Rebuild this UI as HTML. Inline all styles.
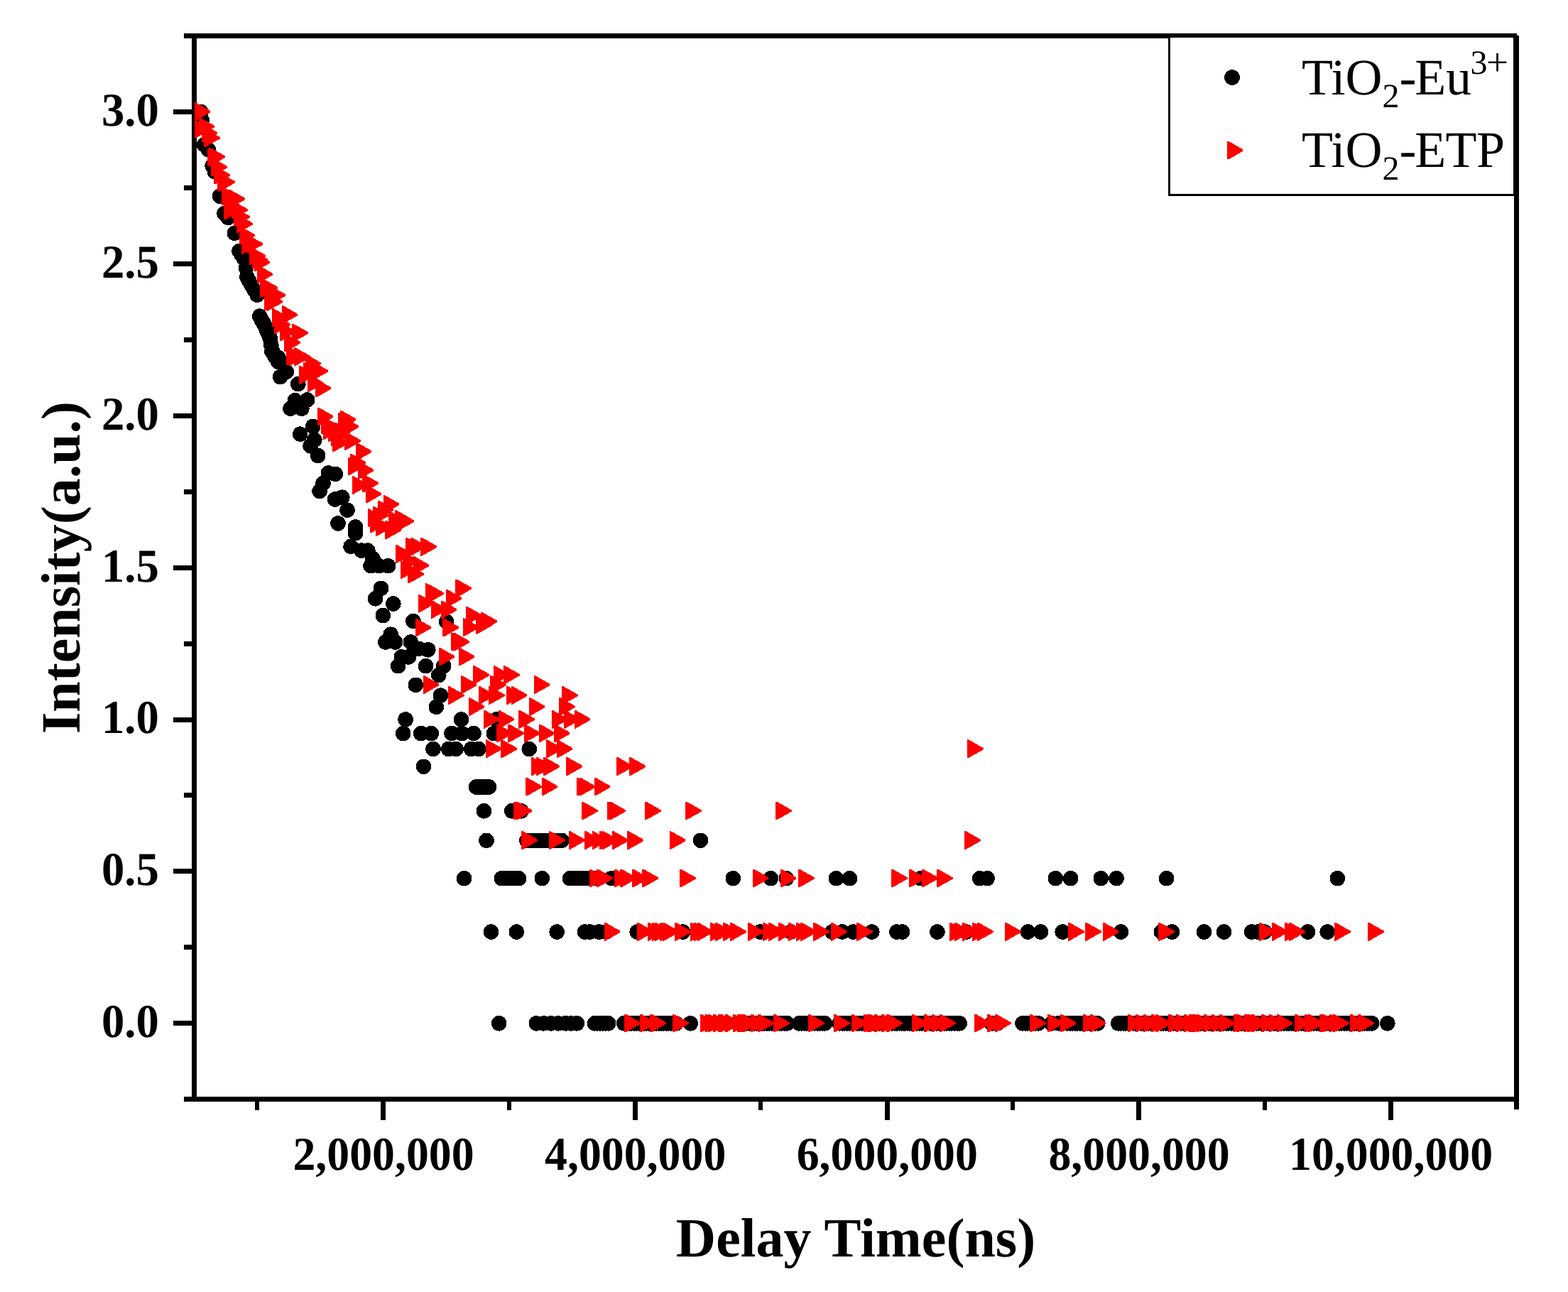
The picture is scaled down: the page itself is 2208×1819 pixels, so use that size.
<!DOCTYPE html>
<html lang="en"><head><meta charset="utf-8"><title>Intensity vs Delay Time</title>
<style>html,body{margin:0;padding:0;background:#fff}body{width:2208px;height:1819px;overflow:hidden}svg{display:block}</style>
</head><body>
<svg width="2208" height="1819" viewBox="0 0 2208 1819" shape-rendering="crispEdges" text-rendering="geometricPrecision">
<rect x="0" y="0" width="2208" height="1819" fill="#fff"/>
<g fill="#000">
<rect x="259" y="47" width="1877" height="7"/>
<rect x="259" y="1544" width="1880" height="7"/>
<rect x="270" y="47" width="7" height="1504"/>
<rect x="2132" y="50" width="7" height="1512"/>
<rect x="244" y="154" width="27" height="7"/>
<rect x="244" y="368" width="27" height="7"/>
<rect x="244" y="582" width="27" height="7"/>
<rect x="244" y="796" width="27" height="7"/>
<rect x="244" y="1010" width="27" height="7"/>
<rect x="244" y="1223" width="27" height="7"/>
<rect x="244" y="1437" width="27" height="7"/>
<rect x="259" y="261" width="12" height="7"/>
<rect x="259" y="475" width="12" height="7"/>
<rect x="259" y="689" width="12" height="7"/>
<rect x="259" y="903" width="12" height="7"/>
<rect x="259" y="1116" width="12" height="7"/>
<rect x="259" y="1330" width="12" height="7"/>
<rect x="536" y="1548" width="7" height="29"/>
<rect x="891" y="1548" width="7" height="29"/>
<rect x="1246" y="1548" width="7" height="29"/>
<rect x="1600" y="1548" width="7" height="29"/>
<rect x="1955" y="1548" width="7" height="29"/>
<rect x="359.2" y="1548" width="6.2" height="14.5"/>
<rect x="714.2" y="1548" width="6.2" height="14.5"/>
<rect x="1068.2" y="1548" width="6.2" height="14.5"/>
<rect x="1423.2" y="1548" width="6.2" height="14.5"/>
<rect x="1778.2" y="1548" width="6.2" height="14.5"/>
</g>
<defs><clipPath id="cp"><rect x="274" y="54" width="1858" height="1490"/></clipPath></defs>
<g clip-path="url(#cp)" shape-rendering="crispEdges">
<g fill="#000">
<circle cx="283.0" cy="157.6" r="10.8"/>
<circle cx="284.2" cy="169.2" r="10.8"/>
<circle cx="287.6" cy="203.7" r="10.8"/>
<circle cx="293.4" cy="210.6" r="10.8"/>
<circle cx="299.2" cy="233.7" r="10.8"/>
<circle cx="302.6" cy="241.8" r="10.8"/>
<circle cx="309.5" cy="276.3" r="10.8"/>
<circle cx="315.9" cy="300.5" r="10.8"/>
<circle cx="321.1" cy="306.3" r="10.8"/>
<circle cx="330.3" cy="328.2" r="10.8"/>
<circle cx="336.9" cy="353.6" r="10.8"/>
<circle cx="343.8" cy="364.5" r="10.8"/>
<circle cx="347.8" cy="389.9" r="10.8"/>
<circle cx="354.1" cy="401.4" r="10.8"/>
<circle cx="362.2" cy="415.2" r="10.8"/>
<circle cx="365.7" cy="445.2" r="10.8"/>
<circle cx="371.4" cy="455.5" r="10.8"/>
<circle cx="377.2" cy="467.1" r="10.8"/>
<circle cx="380.6" cy="477.4" r="10.8"/>
<circle cx="382.9" cy="494.7" r="10.8"/>
<circle cx="375.8" cy="465.8" r="10.8"/>
<circle cx="380.2" cy="475.8" r="10.8"/>
<circle cx="383.8" cy="494.6" r="10.8"/>
<circle cx="391.7" cy="503.2" r="10.8"/>
<circle cx="397.4" cy="510.4" r="10.8"/>
<circle cx="403.2" cy="523.4" r="10.8"/>
<circle cx="394.6" cy="530.6" r="10.8"/>
<circle cx="419.8" cy="540.7" r="10.8"/>
<circle cx="415.5" cy="563.7" r="10.8"/>
<circle cx="432.7" cy="563.0" r="10.8"/>
<circle cx="409.0" cy="575.2" r="10.8"/>
<circle cx="424.8" cy="575.2" r="10.8"/>
<circle cx="440.7" cy="600.4" r="10.8"/>
<circle cx="422.7" cy="611.2" r="10.8"/>
<circle cx="442.8" cy="619.2" r="10.8"/>
<circle cx="437.1" cy="627.8" r="10.8"/>
<circle cx="447.6" cy="641.5" r="10.8"/>
<circle cx="462.3" cy="666.0" r="10.8"/>
<circle cx="472.3" cy="667.4" r="10.8"/>
<circle cx="455.1" cy="680.4" r="10.8"/>
<circle cx="450.1" cy="691.5" r="10.8"/>
<circle cx="471.7" cy="703.0" r="10.8"/>
<circle cx="481.8" cy="700.2" r="10.8"/>
<circle cx="489.0" cy="718.2" r="10.8"/>
<circle cx="476.0" cy="736.9" r="10.8"/>
<circle cx="500.5" cy="741.9" r="10.8"/>
<circle cx="500.5" cy="750.6" r="10.8"/>
<circle cx="494.0" cy="769.3" r="10.8"/>
<circle cx="509.1" cy="775.1" r="10.8"/>
<circle cx="517.8" cy="775.1" r="10.8"/>
<circle cx="525.0" cy="786.6" r="10.8"/>
<circle cx="522.1" cy="796.7" r="10.8"/>
<circle cx="533.6" cy="796.7" r="10.8"/>
<circle cx="546.6" cy="796.7" r="10.8"/>
<circle cx="536.5" cy="828.4" r="10.8"/>
<circle cx="528.6" cy="842.8" r="10.8"/>
<circle cx="553.8" cy="850.0" r="10.8"/>
<circle cx="539.4" cy="866.5" r="10.8"/>
<circle cx="581.9" cy="874.4" r="10.8"/>
<circle cx="628.7" cy="875.2" r="10.8"/>
<circle cx="550.2" cy="893.2" r="10.8"/>
<circle cx="543.0" cy="904.0" r="10.8"/>
<circle cx="556.7" cy="904.0" r="10.8"/>
<circle cx="578.3" cy="904.0" r="10.8"/>
<circle cx="589.8" cy="913.3" r="10.8"/>
<circle cx="602.8" cy="914.8" r="10.8"/>
<circle cx="565.3" cy="924.9" r="10.8"/>
<circle cx="575.4" cy="924.9" r="10.8"/>
<circle cx="340.3" cy="359.0" r="10.8"/>
<circle cx="346.5" cy="377.1" r="10.8"/>
<circle cx="350.9" cy="395.7" r="10.8"/>
<circle cx="358.0" cy="408.3" r="10.8"/>
<circle cx="368.4" cy="450.4" r="10.8"/>
<circle cx="374.4" cy="461.3" r="10.8"/>
<circle cx="378.8" cy="472.3" r="10.8"/>
<circle cx="381.8" cy="486.0" r="10.8"/>
<circle cx="387.0" cy="501.8" r="10.8"/>
<circle cx="391.7" cy="509.5" r="10.8"/>
<circle cx="560.7" cy="937.7" r="10.8"/>
<circle cx="599.6" cy="937.7" r="10.8"/>
<circle cx="624.7" cy="937.7" r="10.8"/>
<circle cx="617.8" cy="950.5" r="10.8"/>
<circle cx="585.3" cy="964.3" r="10.8"/>
<circle cx="620.4" cy="979.2" r="10.8"/>
<circle cx="614.3" cy="995.3" r="10.8"/>
<circle cx="571.1" cy="1013.0" r="10.8"/>
<circle cx="649.4" cy="1013.0" r="10.8"/>
<circle cx="699.0" cy="1013.0" r="10.8"/>
<circle cx="567.7" cy="1032.6" r="10.8"/>
<circle cx="592.7" cy="1032.6" r="10.8"/>
<circle cx="607.4" cy="1032.6" r="10.8"/>
<circle cx="635.9" cy="1032.6" r="10.8"/>
<circle cx="650.6" cy="1032.6" r="10.8"/>
<circle cx="667.0" cy="1032.6" r="10.8"/>
<circle cx="695.5" cy="1032.6" r="10.8"/>
<circle cx="610.0" cy="1054.5" r="10.8"/>
<circle cx="631.6" cy="1054.5" r="10.8"/>
<circle cx="642.0" cy="1054.5" r="10.8"/>
<circle cx="663.6" cy="1054.5" r="10.8"/>
<circle cx="673.9" cy="1054.5" r="10.8"/>
<circle cx="745.3" cy="1054.5" r="10.8"/>
<circle cx="596.5" cy="1079.3" r="10.8"/>
<circle cx="670.5" cy="1107.9" r="10.8"/>
<circle cx="688.6" cy="1107.9" r="10.8"/>
<circle cx="681.4" cy="1141.8" r="10.8"/>
<circle cx="720.7" cy="1141.8" r="10.8"/>
<circle cx="734.0" cy="1141.8" r="10.8"/>
<circle cx="685.0" cy="1183.3" r="10.8"/>
<circle cx="741.9" cy="1183.3" r="10.8"/>
<circle cx="753.9" cy="1183.3" r="10.8"/>
<circle cx="764.3" cy="1183.3" r="10.8"/>
<circle cx="776.7" cy="1183.3" r="10.8"/>
<circle cx="790.9" cy="1183.3" r="10.8"/>
<circle cx="986.5" cy="1183.3" r="10.8"/>
<circle cx="653.6" cy="1236.7" r="10.8"/>
<circle cx="706.4" cy="1236.7" r="10.8"/>
<circle cx="714.4" cy="1236.7" r="10.8"/>
<circle cx="722.5" cy="1236.7" r="10.8"/>
<circle cx="730.5" cy="1236.7" r="10.8"/>
<circle cx="763.3" cy="1236.7" r="10.8"/>
<circle cx="802.6" cy="1236.7" r="10.8"/>
<circle cx="813.6" cy="1236.7" r="10.8"/>
<circle cx="825.0" cy="1236.7" r="10.8"/>
<circle cx="836.4" cy="1236.7" r="10.8"/>
<circle cx="861.1" cy="1236.7" r="10.8"/>
<circle cx="1032.3" cy="1236.7" r="10.8"/>
<circle cx="1085.4" cy="1236.7" r="10.8"/>
<circle cx="1107.3" cy="1236.7" r="10.8"/>
<circle cx="1177.5" cy="1236.7" r="10.8"/>
<circle cx="1196.5" cy="1236.7" r="10.8"/>
<circle cx="1296.2" cy="1236.7" r="10.8"/>
<circle cx="1379.7" cy="1236.7" r="10.8"/>
<circle cx="1390.1" cy="1236.7" r="10.8"/>
<circle cx="1486.3" cy="1236.7" r="10.8"/>
<circle cx="1507.6" cy="1236.7" r="10.8"/>
<circle cx="1550.3" cy="1236.7" r="10.8"/>
<circle cx="1572.1" cy="1236.7" r="10.8"/>
<circle cx="1642.6" cy="1236.7" r="10.8"/>
<circle cx="1883.4" cy="1236.7" r="10.8"/>
<circle cx="691.6" cy="1312.0" r="10.8"/>
<circle cx="727.3" cy="1312.0" r="10.8"/>
<circle cx="784.2" cy="1312.0" r="10.8"/>
<circle cx="823.5" cy="1312.0" r="10.8"/>
<circle cx="830.7" cy="1312.0" r="10.8"/>
<circle cx="843.1" cy="1312.0" r="10.8"/>
<circle cx="853.5" cy="1312.0" r="10.8"/>
<circle cx="897.2" cy="1312.0" r="10.8"/>
<circle cx="961.7" cy="1312.0" r="10.8"/>
<circle cx="1070.2" cy="1312.0" r="10.8"/>
<circle cx="1113.9" cy="1312.0" r="10.8"/>
<circle cx="1171.8" cy="1312.0" r="10.8"/>
<circle cx="1186.0" cy="1312.0" r="10.8"/>
<circle cx="1201.2" cy="1312.0" r="10.8"/>
<circle cx="1227.8" cy="1312.0" r="10.8"/>
<circle cx="1262.9" cy="1312.0" r="10.8"/>
<circle cx="1270.5" cy="1312.0" r="10.8"/>
<circle cx="1319.9" cy="1312.0" r="10.8"/>
<circle cx="1360.7" cy="1312.0" r="10.8"/>
<circle cx="1447.4" cy="1312.0" r="10.8"/>
<circle cx="1465.4" cy="1312.0" r="10.8"/>
<circle cx="1496.2" cy="1312.0" r="10.8"/>
<circle cx="1578.4" cy="1312.0" r="10.8"/>
<circle cx="1635.3" cy="1312.0" r="10.8"/>
<circle cx="1650.5" cy="1312.0" r="10.8"/>
<circle cx="1695.5" cy="1312.0" r="10.8"/>
<circle cx="1723.6" cy="1312.0" r="10.8"/>
<circle cx="1762.5" cy="1312.0" r="10.8"/>
<circle cx="1771.1" cy="1312.0" r="10.8"/>
<circle cx="1780.9" cy="1312.0" r="10.8"/>
<circle cx="1841.6" cy="1312.0" r="10.8"/>
<circle cx="1869.2" cy="1312.0" r="10.8"/>
<circle cx="702.7" cy="1440.8" r="10.8"/>
<circle cx="755.3" cy="1440.8" r="10.8"/>
<circle cx="765.4" cy="1440.8" r="10.8"/>
<circle cx="775.8" cy="1440.8" r="10.8"/>
<circle cx="786.2" cy="1440.8" r="10.8"/>
<circle cx="796.7" cy="1440.8" r="10.8"/>
<circle cx="804.3" cy="1440.8" r="10.8"/>
<circle cx="812.3" cy="1440.8" r="10.8"/>
<circle cx="837.5" cy="1440.8" r="10.8"/>
<circle cx="841.3" cy="1440.8" r="10.8"/>
<circle cx="845.1" cy="1440.8" r="10.8"/>
<circle cx="849.0" cy="1440.8" r="10.8"/>
<circle cx="852.8" cy="1440.8" r="10.8"/>
<circle cx="856.6" cy="1440.8" r="10.8"/>
<circle cx="878.7" cy="1440.8" r="10.8"/>
<circle cx="882.2" cy="1440.8" r="10.8"/>
<circle cx="885.7" cy="1440.8" r="10.8"/>
<circle cx="889.2" cy="1440.8" r="10.8"/>
<circle cx="892.7" cy="1440.8" r="10.8"/>
<circle cx="896.2" cy="1440.8" r="10.8"/>
<circle cx="899.6" cy="1440.8" r="10.8"/>
<circle cx="903.1" cy="1440.8" r="10.8"/>
<circle cx="906.6" cy="1440.8" r="10.8"/>
<circle cx="910.1" cy="1440.8" r="10.8"/>
<circle cx="913.6" cy="1440.8" r="10.8"/>
<circle cx="917.1" cy="1440.8" r="10.8"/>
<circle cx="920.6" cy="1440.8" r="10.8"/>
<circle cx="924.1" cy="1440.8" r="10.8"/>
<circle cx="927.6" cy="1440.8" r="10.8"/>
<circle cx="931.1" cy="1440.8" r="10.8"/>
<circle cx="934.5" cy="1440.8" r="10.8"/>
<circle cx="938.0" cy="1440.8" r="10.8"/>
<circle cx="941.5" cy="1440.8" r="10.8"/>
<circle cx="945.0" cy="1440.8" r="10.8"/>
<circle cx="948.5" cy="1440.8" r="10.8"/>
<circle cx="952.0" cy="1440.8" r="10.8"/>
<circle cx="972.2" cy="1440.8" r="10.8"/>
<circle cx="1051.1" cy="1440.8" r="10.8"/>
<circle cx="1054.7" cy="1440.8" r="10.8"/>
<circle cx="1058.3" cy="1440.8" r="10.8"/>
<circle cx="1061.9" cy="1440.8" r="10.8"/>
<circle cx="1065.4" cy="1440.8" r="10.8"/>
<circle cx="1069.0" cy="1440.8" r="10.8"/>
<circle cx="1072.6" cy="1440.8" r="10.8"/>
<circle cx="1076.2" cy="1440.8" r="10.8"/>
<circle cx="1079.8" cy="1440.8" r="10.8"/>
<circle cx="1083.4" cy="1440.8" r="10.8"/>
<circle cx="1087.0" cy="1440.8" r="10.8"/>
<circle cx="1090.6" cy="1440.8" r="10.8"/>
<circle cx="1094.2" cy="1440.8" r="10.8"/>
<circle cx="1097.7" cy="1440.8" r="10.8"/>
<circle cx="1101.3" cy="1440.8" r="10.8"/>
<circle cx="1104.9" cy="1440.8" r="10.8"/>
<circle cx="1108.5" cy="1440.8" r="10.8"/>
<circle cx="1125.5" cy="1440.8" r="10.8"/>
<circle cx="1129.1" cy="1440.8" r="10.8"/>
<circle cx="1132.7" cy="1440.8" r="10.8"/>
<circle cx="1136.3" cy="1440.8" r="10.8"/>
<circle cx="1139.9" cy="1440.8" r="10.8"/>
<circle cx="1143.5" cy="1440.8" r="10.8"/>
<circle cx="1147.1" cy="1440.8" r="10.8"/>
<circle cx="1150.7" cy="1440.8" r="10.8"/>
<circle cx="1154.3" cy="1440.8" r="10.8"/>
<circle cx="1157.9" cy="1440.8" r="10.8"/>
<circle cx="1161.5" cy="1440.8" r="10.8"/>
<circle cx="1182.1" cy="1440.8" r="10.8"/>
<circle cx="1185.6" cy="1440.8" r="10.8"/>
<circle cx="1189.1" cy="1440.8" r="10.8"/>
<circle cx="1192.7" cy="1440.8" r="10.8"/>
<circle cx="1196.2" cy="1440.8" r="10.8"/>
<circle cx="1199.7" cy="1440.8" r="10.8"/>
<circle cx="1203.2" cy="1440.8" r="10.8"/>
<circle cx="1206.7" cy="1440.8" r="10.8"/>
<circle cx="1210.3" cy="1440.8" r="10.8"/>
<circle cx="1213.8" cy="1440.8" r="10.8"/>
<circle cx="1217.3" cy="1440.8" r="10.8"/>
<circle cx="1220.8" cy="1440.8" r="10.8"/>
<circle cx="1224.3" cy="1440.8" r="10.8"/>
<circle cx="1227.9" cy="1440.8" r="10.8"/>
<circle cx="1231.4" cy="1440.8" r="10.8"/>
<circle cx="1234.9" cy="1440.8" r="10.8"/>
<circle cx="1238.4" cy="1440.8" r="10.8"/>
<circle cx="1242.0" cy="1440.8" r="10.8"/>
<circle cx="1245.5" cy="1440.8" r="10.8"/>
<circle cx="1249.0" cy="1440.8" r="10.8"/>
<circle cx="1252.5" cy="1440.8" r="10.8"/>
<circle cx="1256.0" cy="1440.8" r="10.8"/>
<circle cx="1259.6" cy="1440.8" r="10.8"/>
<circle cx="1263.1" cy="1440.8" r="10.8"/>
<circle cx="1266.6" cy="1440.8" r="10.8"/>
<circle cx="1270.1" cy="1440.8" r="10.8"/>
<circle cx="1273.6" cy="1440.8" r="10.8"/>
<circle cx="1277.2" cy="1440.8" r="10.8"/>
<circle cx="1280.7" cy="1440.8" r="10.8"/>
<circle cx="1284.2" cy="1440.8" r="10.8"/>
<circle cx="1287.7" cy="1440.8" r="10.8"/>
<circle cx="1291.2" cy="1440.8" r="10.8"/>
<circle cx="1294.8" cy="1440.8" r="10.8"/>
<circle cx="1298.3" cy="1440.8" r="10.8"/>
<circle cx="1301.8" cy="1440.8" r="10.8"/>
<circle cx="1305.3" cy="1440.8" r="10.8"/>
<circle cx="1308.8" cy="1440.8" r="10.8"/>
<circle cx="1312.4" cy="1440.8" r="10.8"/>
<circle cx="1315.9" cy="1440.8" r="10.8"/>
<circle cx="1319.4" cy="1440.8" r="10.8"/>
<circle cx="1322.9" cy="1440.8" r="10.8"/>
<circle cx="1326.5" cy="1440.8" r="10.8"/>
<circle cx="1330.0" cy="1440.8" r="10.8"/>
<circle cx="1333.5" cy="1440.8" r="10.8"/>
<circle cx="1337.0" cy="1440.8" r="10.8"/>
<circle cx="1340.5" cy="1440.8" r="10.8"/>
<circle cx="1344.1" cy="1440.8" r="10.8"/>
<circle cx="1347.6" cy="1440.8" r="10.8"/>
<circle cx="1351.1" cy="1440.8" r="10.8"/>
<circle cx="1396.6" cy="1440.8" r="10.8"/>
<circle cx="1404.5" cy="1440.8" r="10.8"/>
<circle cx="1480.6" cy="1440.8" r="10.8"/>
<circle cx="1490.6" cy="1440.8" r="10.8"/>
<circle cx="1440.0" cy="1440.8" r="10.8"/>
<circle cx="1443.7" cy="1440.8" r="10.8"/>
<circle cx="1447.4" cy="1440.8" r="10.8"/>
<circle cx="1451.0" cy="1440.8" r="10.8"/>
<circle cx="1454.7" cy="1440.8" r="10.8"/>
<circle cx="1458.4" cy="1440.8" r="10.8"/>
<circle cx="1462.1" cy="1440.8" r="10.8"/>
<circle cx="1503.4" cy="1440.8" r="10.8"/>
<circle cx="1506.9" cy="1440.8" r="10.8"/>
<circle cx="1510.4" cy="1440.8" r="10.8"/>
<circle cx="1514.0" cy="1440.8" r="10.8"/>
<circle cx="1517.5" cy="1440.8" r="10.8"/>
<circle cx="1521.0" cy="1440.8" r="10.8"/>
<circle cx="1524.5" cy="1440.8" r="10.8"/>
<circle cx="1528.0" cy="1440.8" r="10.8"/>
<circle cx="1531.5" cy="1440.8" r="10.8"/>
<circle cx="1535.0" cy="1440.8" r="10.8"/>
<circle cx="1538.6" cy="1440.8" r="10.8"/>
<circle cx="1542.1" cy="1440.8" r="10.8"/>
<circle cx="1545.6" cy="1440.8" r="10.8"/>
<circle cx="1574.8" cy="1440.8" r="10.8"/>
<circle cx="1578.3" cy="1440.8" r="10.8"/>
<circle cx="1581.9" cy="1440.8" r="10.8"/>
<circle cx="1585.4" cy="1440.8" r="10.8"/>
<circle cx="1588.9" cy="1440.8" r="10.8"/>
<circle cx="1592.5" cy="1440.8" r="10.8"/>
<circle cx="1596.0" cy="1440.8" r="10.8"/>
<circle cx="1599.5" cy="1440.8" r="10.8"/>
<circle cx="1603.1" cy="1440.8" r="10.8"/>
<circle cx="1606.6" cy="1440.8" r="10.8"/>
<circle cx="1610.1" cy="1440.8" r="10.8"/>
<circle cx="1613.7" cy="1440.8" r="10.8"/>
<circle cx="1617.2" cy="1440.8" r="10.8"/>
<circle cx="1620.7" cy="1440.8" r="10.8"/>
<circle cx="1624.3" cy="1440.8" r="10.8"/>
<circle cx="1627.8" cy="1440.8" r="10.8"/>
<circle cx="1631.3" cy="1440.8" r="10.8"/>
<circle cx="1634.9" cy="1440.8" r="10.8"/>
<circle cx="1638.4" cy="1440.8" r="10.8"/>
<circle cx="1641.9" cy="1440.8" r="10.8"/>
<circle cx="1645.5" cy="1440.8" r="10.8"/>
<circle cx="1649.0" cy="1440.8" r="10.8"/>
<circle cx="1652.5" cy="1440.8" r="10.8"/>
<circle cx="1656.1" cy="1440.8" r="10.8"/>
<circle cx="1659.6" cy="1440.8" r="10.8"/>
<circle cx="1663.1" cy="1440.8" r="10.8"/>
<circle cx="1666.7" cy="1440.8" r="10.8"/>
<circle cx="1670.2" cy="1440.8" r="10.8"/>
<circle cx="1673.7" cy="1440.8" r="10.8"/>
<circle cx="1677.3" cy="1440.8" r="10.8"/>
<circle cx="1680.8" cy="1440.8" r="10.8"/>
<circle cx="1684.3" cy="1440.8" r="10.8"/>
<circle cx="1687.9" cy="1440.8" r="10.8"/>
<circle cx="1691.4" cy="1440.8" r="10.8"/>
<circle cx="1694.9" cy="1440.8" r="10.8"/>
<circle cx="1698.5" cy="1440.8" r="10.8"/>
<circle cx="1702.0" cy="1440.8" r="10.8"/>
<circle cx="1705.5" cy="1440.8" r="10.8"/>
<circle cx="1709.1" cy="1440.8" r="10.8"/>
<circle cx="1712.6" cy="1440.8" r="10.8"/>
<circle cx="1716.1" cy="1440.8" r="10.8"/>
<circle cx="1719.7" cy="1440.8" r="10.8"/>
<circle cx="1723.2" cy="1440.8" r="10.8"/>
<circle cx="1726.7" cy="1440.8" r="10.8"/>
<circle cx="1730.3" cy="1440.8" r="10.8"/>
<circle cx="1733.8" cy="1440.8" r="10.8"/>
<circle cx="1737.3" cy="1440.8" r="10.8"/>
<circle cx="1740.9" cy="1440.8" r="10.8"/>
<circle cx="1744.4" cy="1440.8" r="10.8"/>
<circle cx="1747.9" cy="1440.8" r="10.8"/>
<circle cx="1751.5" cy="1440.8" r="10.8"/>
<circle cx="1755.0" cy="1440.8" r="10.8"/>
<circle cx="1758.6" cy="1440.8" r="10.8"/>
<circle cx="1762.1" cy="1440.8" r="10.8"/>
<circle cx="1765.6" cy="1440.8" r="10.8"/>
<circle cx="1769.2" cy="1440.8" r="10.8"/>
<circle cx="1772.7" cy="1440.8" r="10.8"/>
<circle cx="1776.2" cy="1440.8" r="10.8"/>
<circle cx="1779.8" cy="1440.8" r="10.8"/>
<circle cx="1783.3" cy="1440.8" r="10.8"/>
<circle cx="1786.8" cy="1440.8" r="10.8"/>
<circle cx="1790.4" cy="1440.8" r="10.8"/>
<circle cx="1793.9" cy="1440.8" r="10.8"/>
<circle cx="1797.4" cy="1440.8" r="10.8"/>
<circle cx="1801.0" cy="1440.8" r="10.8"/>
<circle cx="1804.5" cy="1440.8" r="10.8"/>
<circle cx="1808.0" cy="1440.8" r="10.8"/>
<circle cx="1811.6" cy="1440.8" r="10.8"/>
<circle cx="1815.1" cy="1440.8" r="10.8"/>
<circle cx="1818.6" cy="1440.8" r="10.8"/>
<circle cx="1822.2" cy="1440.8" r="10.8"/>
<circle cx="1825.7" cy="1440.8" r="10.8"/>
<circle cx="1829.2" cy="1440.8" r="10.8"/>
<circle cx="1832.8" cy="1440.8" r="10.8"/>
<circle cx="1836.3" cy="1440.8" r="10.8"/>
<circle cx="1839.8" cy="1440.8" r="10.8"/>
<circle cx="1843.4" cy="1440.8" r="10.8"/>
<circle cx="1846.9" cy="1440.8" r="10.8"/>
<circle cx="1850.4" cy="1440.8" r="10.8"/>
<circle cx="1854.0" cy="1440.8" r="10.8"/>
<circle cx="1857.5" cy="1440.8" r="10.8"/>
<circle cx="1861.0" cy="1440.8" r="10.8"/>
<circle cx="1864.6" cy="1440.8" r="10.8"/>
<circle cx="1868.1" cy="1440.8" r="10.8"/>
<circle cx="1871.6" cy="1440.8" r="10.8"/>
<circle cx="1875.2" cy="1440.8" r="10.8"/>
<circle cx="1878.7" cy="1440.8" r="10.8"/>
<circle cx="1882.2" cy="1440.8" r="10.8"/>
<circle cx="1885.8" cy="1440.8" r="10.8"/>
<circle cx="1889.3" cy="1440.8" r="10.8"/>
<circle cx="1892.8" cy="1440.8" r="10.8"/>
<circle cx="1896.4" cy="1440.8" r="10.8"/>
<circle cx="1899.9" cy="1440.8" r="10.8"/>
<circle cx="1903.4" cy="1440.8" r="10.8"/>
<circle cx="1907.0" cy="1440.8" r="10.8"/>
<circle cx="1910.5" cy="1440.8" r="10.8"/>
<circle cx="1914.0" cy="1440.8" r="10.8"/>
<circle cx="1917.6" cy="1440.8" r="10.8"/>
<circle cx="1921.1" cy="1440.8" r="10.8"/>
<circle cx="1924.6" cy="1440.8" r="10.8"/>
<circle cx="1928.2" cy="1440.8" r="10.8"/>
<circle cx="1931.7" cy="1440.8" r="10.8"/>
<circle cx="1953.8" cy="1440.8" r="10.8"/>
<circle cx="670.5" cy="1107.9" r="10.8"/>
<circle cx="674.1" cy="1107.9" r="10.8"/>
<circle cx="677.7" cy="1107.9" r="10.8"/>
<circle cx="681.4" cy="1107.9" r="10.8"/>
<circle cx="685.0" cy="1107.9" r="10.8"/>
<circle cx="688.6" cy="1107.9" r="10.8"/>
<circle cx="706.4" cy="1236.7" r="10.8"/>
<circle cx="709.8" cy="1236.7" r="10.8"/>
<circle cx="713.3" cy="1236.7" r="10.8"/>
<circle cx="716.7" cy="1236.7" r="10.8"/>
<circle cx="720.2" cy="1236.7" r="10.8"/>
<circle cx="723.6" cy="1236.7" r="10.8"/>
<circle cx="727.1" cy="1236.7" r="10.8"/>
<circle cx="730.5" cy="1236.7" r="10.8"/>
<circle cx="802.6" cy="1236.7" r="10.8"/>
<circle cx="806.0" cy="1236.7" r="10.8"/>
<circle cx="809.4" cy="1236.7" r="10.8"/>
<circle cx="812.7" cy="1236.7" r="10.8"/>
<circle cx="816.1" cy="1236.7" r="10.8"/>
<circle cx="819.5" cy="1236.7" r="10.8"/>
<circle cx="822.9" cy="1236.7" r="10.8"/>
<circle cx="826.3" cy="1236.7" r="10.8"/>
<circle cx="829.6" cy="1236.7" r="10.8"/>
<circle cx="833.0" cy="1236.7" r="10.8"/>
<circle cx="836.4" cy="1236.7" r="10.8"/>
<circle cx="742.0" cy="1183.3" r="10.8"/>
<circle cx="745.5" cy="1183.3" r="10.8"/>
<circle cx="749.0" cy="1183.3" r="10.8"/>
<circle cx="752.5" cy="1183.3" r="10.8"/>
<circle cx="756.0" cy="1183.3" r="10.8"/>
<circle cx="759.5" cy="1183.3" r="10.8"/>
<circle cx="763.0" cy="1183.3" r="10.8"/>
<circle cx="766.5" cy="1183.3" r="10.8"/>
<circle cx="770.0" cy="1183.3" r="10.8"/>
<circle cx="773.5" cy="1183.3" r="10.8"/>
<circle cx="777.0" cy="1183.3" r="10.8"/>
<circle cx="780.5" cy="1183.3" r="10.8"/>
<circle cx="784.0" cy="1183.3" r="10.8"/>
<circle cx="787.5" cy="1183.3" r="10.8"/>
<circle cx="791.0" cy="1183.3" r="10.8"/>
</g><g fill="#f00">
<path d="M291.7 208.5h2L314.3 220.1v2.4L293.7 234.1h-2z"/>
<path d="M305.5 243.9h2L328.1 255.5v2.4L307.5 269.5h-2z"/>
<path d="M312.4 263.2h2L335.0 274.8v2.4L314.4 288.8h-2z"/>
<path d="M315.6 283.0h2L338.2 294.6v2.4L317.6 308.6h-2z"/>
<path d="M273.5 144.3h2L296.1 155.9v2.4L275.5 169.9h-2z"/>
<path d="M273.1 169.0h2L295.7 180.6v2.4L275.1 194.6h-2z"/>
<path d="M279.5 165.3h2L302.1 176.9v2.4L281.5 190.9h-2z"/>
<path d="M283.5 174.5h2L306.1 186.1v2.4L285.5 200.1h-2z"/>
<path d="M287.2 181.4h2L309.8 193.0v2.4L289.2 207.0h-2z"/>
<path d="M294.4 207.9h2L317.0 219.5v2.4L296.4 233.5h-2z"/>
<path d="M297.3 222.3h2L319.9 233.9v2.4L299.3 247.9h-2z"/>
<path d="M301.3 233.8h2L323.9 245.4v2.4L303.3 259.4h-2z"/>
<path d="M308.3 243.6h2L330.9 255.2v2.4L310.3 269.2h-2z"/>
<path d="M322.4 267.2h2L345.0 278.8v2.4L324.4 292.8h-2z"/>
<path d="M326.3 282.8h2L348.9 294.4v2.4L328.3 308.4h-2z"/>
<path d="M329.3 292.6h2L351.9 304.2v2.4L331.3 318.2h-2z"/>
<path d="M333.4 302.4h2L356.0 314.0v2.4L335.4 328.0h-2z"/>
<path d="M315.4 283.7h2L338.0 295.3v2.4L317.4 309.3h-2z"/>
<path d="M340.2 332.1h2L362.8 343.7v2.4L342.2 357.7h-2z"/>
<path d="M365.5 393.1h2L388.1 404.7v2.4L367.5 418.7h-2z"/>
<path d="M372.4 411.6h2L395.0 423.2v2.4L374.4 437.2h-2z"/>
<path d="M383.4 434.4h2L406.0 446.0v2.4L385.4 460.0h-2z"/>
<path d="M394.3 454.2h2L416.9 465.8v2.4L396.3 479.8h-2z"/>
<path d="M336.5 318.6h2L359.1 330.2v2.4L338.5 344.2h-2z"/>
<path d="M347.4 330.7h2L370.0 342.3v2.4L349.4 356.3h-2z"/>
<path d="M351.4 347.4h2L374.0 359.0v2.4L353.4 373.0h-2z"/>
<path d="M354.6 353.1h2L377.2 364.7v2.4L356.6 378.7h-2z"/>
<path d="M357.5 356.6h2L380.1 368.2v2.4L359.5 382.2h-2z"/>
<path d="M361.5 373.3h2L384.1 384.9v2.4L363.5 398.9h-2z"/>
<path d="M368.4 392.3h2L391.0 403.9v2.4L370.4 417.9h-2z"/>
<path d="M379.4 402.7h2L402.0 414.3v2.4L381.4 428.3h-2z"/>
<path d="M375.6 411.9h2L398.2 423.5v2.4L377.6 437.5h-2z"/>
<path d="M396.6 430.3h2L419.2 441.9v2.4L398.6 455.9h-2z"/>
<path d="M386.3 444.2h2L408.9 455.8v2.4L388.3 469.8h-2z"/>
<path d="M411.4 455.9h2L434.0 467.5v2.4L413.4 481.5h-2z"/>
<path d="M400.4 469.5h2L423.0 481.1v2.4L402.4 495.1h-2z"/>
<path d="M475.8 581.1h2L498.4 592.7v2.4L477.8 606.7h-2z"/>
<path d="M426.7 510.3h2L449.3 521.9v2.4L428.7 535.9h-2z"/>
<path d="M403.4 488.7h2L426.0 500.3v2.4L405.4 514.3h-2z"/>
<path d="M407.0 489.1h2L429.6 500.7v2.4L409.0 514.7h-2z"/>
<path d="M414.2 489.4h2L436.8 501.0v2.4L416.2 515.0h-2z"/>
<path d="M421.4 515.0h2L444.0 526.6v2.4L423.4 540.6h-2z"/>
<path d="M429.6 499.0h2L452.2 510.6v2.4L431.6 524.6h-2z"/>
<path d="M439.4 509.6h2L462.0 521.2v2.4L441.4 535.2h-2z"/>
<path d="M432.6 526.5h2L455.2 538.1v2.4L434.6 552.1h-2z"/>
<path d="M443.7 533.8h2L466.3 545.4v2.4L445.7 559.4h-2z"/>
<path d="M446.6 573.6h2L469.2 585.2v2.4L448.6 599.2h-2z"/>
<path d="M478.5 577.7h2L501.1 589.3v2.4L480.5 603.3h-2z"/>
<path d="M482.6 587.8h2L505.2 599.4v2.4L484.6 613.4h-2z"/>
<path d="M467.5 610.8h2L490.1 622.4v2.4L469.5 636.4h-2z"/>
<path d="M485.3 607.9h2L507.9 619.5v2.4L487.3 633.5h-2z"/>
<path d="M500.6 622.9h2L523.2 634.5v2.4L502.6 648.5h-2z"/>
<path d="M454.8 593.2h2L477.4 604.8v2.4L456.8 618.8h-2z"/>
<path d="M492.7 638.7h2L515.3 650.3v2.4L494.7 664.3h-2z"/>
<path d="M489.8 643.5h2L512.4 655.1v2.4L491.8 669.1h-2z"/>
<path d="M503.5 649.3h2L526.1 660.9v2.4L505.5 674.9h-2z"/>
<path d="M495.5 670.1h2L518.1 681.7v2.4L497.5 695.7h-2z"/>
<path d="M547.0 719.5h2L569.6 731.1v2.4L549.0 745.1h-2z"/>
<path d="M510.3 667.6h2L532.9 679.2v2.4L512.3 693.2h-2z"/>
<path d="M514.6 682.7h2L537.2 694.3v2.4L516.6 708.3h-2z"/>
<path d="M539.5 697.1h2L562.1 708.7v2.4L541.5 722.7h-2z"/>
<path d="M560.4 720.9h2L583.0 732.5v2.4L562.4 746.5h-2z"/>
<path d="M517.6 716.4h2L540.2 728.0v2.4L519.6 742.0h-2z"/>
<path d="M520.8 724.5h2L543.4 736.1v2.4L522.8 750.1h-2z"/>
<path d="M524.8 712.6h2L547.4 724.2v2.4L526.8 738.2h-2z"/>
<path d="M528.7 729.3h2L551.3 740.9v2.4L530.7 754.9h-2z"/>
<path d="M531.6 704.6h2L554.2 716.2v2.4L533.6 730.2h-2z"/>
<path d="M542.4 733.3h2L565.0 744.9v2.4L544.4 758.9h-2z"/>
<path d="M556.8 766.9h2L579.4 778.5v2.4L558.8 792.5h-2z"/>
<path d="M570.5 756.5h2L593.1 768.1v2.4L572.5 782.1h-2z"/>
<path d="M577.7 756.5h2L600.3 768.1v2.4L579.7 782.1h-2z"/>
<path d="M592.4 756.9h2L615.0 768.5v2.4L594.4 782.5h-2z"/>
<path d="M581.6 783.3h2L604.2 794.9v2.4L583.6 808.9h-2z"/>
<path d="M563.6 789.3h2L586.2 800.9v2.4L565.6 814.9h-2z"/>
<path d="M574.4 795.5h2L597.0 807.1v2.4L576.4 821.1h-2z"/>
<path d="M641.4 815.5h2L664.0 827.1v2.4L643.4 841.1h-2z"/>
<path d="M627.7 829.7h2L650.3 841.3v2.4L629.7 855.3h-2z"/>
<path d="M598.6 821.3h2L621.2 832.9v2.4L600.6 846.9h-2z"/>
<path d="M588.5 836.9h2L611.1 848.5v2.4L590.5 862.5h-2z"/>
<path d="M620.5 845.5h2L643.1 857.1v2.4L622.5 871.1h-2z"/>
<path d="M606.5 845.2h2L629.1 856.8v2.4L608.5 870.8h-2z"/>
<path d="M584.5 870.7h2L607.1 882.3v2.4L586.5 896.3h-2z"/>
<path d="M623.4 870.7h2L646.0 882.3v2.4L625.4 896.3h-2z"/>
<path d="M677.4 862.1h2L700.0 873.7v2.4L679.4 887.7h-2z"/>
<path d="M655.8 853.7h2L678.4 865.3v2.4L657.8 879.3h-2z"/>
<path d="M651.6 870.3h2L674.2 881.9v2.4L653.6 895.9h-2z"/>
<path d="M638.5 890.9h2L661.1 902.5v2.4L640.5 916.5h-2z"/>
<path d="M617.6 911.8h2L640.2 923.4v2.4L619.6 937.4h-2z"/>
<path d="M645.7 911.8h2L668.3 923.4v2.4L647.7 937.4h-2z"/>
<path d="M451.7 585.6h2L474.3 597.2v2.4L453.7 611.2h-2z"/>
<path d="M461.7 596.0h2L484.3 607.6v2.4L463.7 621.6h-2z"/>
<path d="M465.8 602.2h2L488.4 613.8v2.4L467.8 627.8h-2z"/>
<path d="M471.4 595.0h2L494.0 606.6v2.4L473.4 620.6h-2z"/>
<path d="M552.2 724.6h2L574.8 736.2v2.4L554.2 750.2h-2z"/>
<path d="M635.4 890.7h2L658.0 902.3v2.4L637.4 916.3h-2z"/>
<path d="M670.2 866.9h2L692.8 878.5v2.4L672.2 892.5h-2z"/>
<path d="M567.1 777.3h2L589.7 788.9v2.4L569.1 802.9h-2z"/>
<path d="M602.3 822.7h2L624.9 834.3v2.4L604.3 848.3h-2z"/>
<path d="M556.1 718.3h2L578.7 729.9v2.4L558.1 743.9h-2z"/>
<path d="M666.4 937.4h2L689.0 949.0v2.4L668.4 963.0h-2z"/>
<path d="M694.9 937.4h2L717.5 949.0v2.4L696.9 963.0h-2z"/>
<path d="M709.2 937.4h2L731.8 949.0v2.4L711.2 963.0h-2z"/>
<path d="M595.5 951.2h2L618.1 962.8v2.4L597.5 976.8h-2z"/>
<path d="M648.8 951.2h2L671.4 962.8v2.4L650.8 976.8h-2z"/>
<path d="M690.2 951.2h2L712.8 962.8v2.4L692.2 976.8h-2z"/>
<path d="M751.6 951.2h2L774.2 962.8v2.4L753.6 976.8h-2z"/>
<path d="M630.9 966.1h2L653.5 977.7v2.4L632.9 991.7h-2z"/>
<path d="M673.8 966.1h2L696.4 977.7v2.4L675.8 991.7h-2z"/>
<path d="M688.0 966.1h2L710.6 977.7v2.4L690.0 991.7h-2z"/>
<path d="M713.2 966.1h2L735.8 977.7v2.4L715.2 991.7h-2z"/>
<path d="M719.6 966.1h2L742.2 977.7v2.4L721.6 991.7h-2z"/>
<path d="M791.0 966.1h2L813.6 977.7v2.4L793.0 991.7h-2z"/>
<path d="M659.5 982.2h2L682.1 993.8v2.4L661.5 1007.8h-2z"/>
<path d="M744.7 982.2h2L767.3 993.8v2.4L746.7 1007.8h-2z"/>
<path d="M787.0 982.2h2L809.6 993.8v2.4L789.0 1007.8h-2z"/>
<path d="M680.7 999.9h2L703.3 1011.5v2.4L682.7 1025.5h-2z"/>
<path d="M701.5 999.9h2L724.1 1011.5v2.4L703.5 1025.5h-2z"/>
<path d="M730.3 999.9h2L752.9 1011.5v2.4L732.3 1025.5h-2z"/>
<path d="M776.6 999.9h2L799.2 1011.5v2.4L778.6 1025.5h-2z"/>
<path d="M793.9 999.9h2L816.5 1011.5v2.4L795.9 1025.5h-2z"/>
<path d="M808.6 999.9h2L831.2 1011.5v2.4L810.6 1025.5h-2z"/>
<path d="M698.9 1019.5h2L721.5 1031.1v2.4L700.9 1045.1h-2z"/>
<path d="M715.3 1019.5h2L737.9 1031.1v2.4L717.3 1045.1h-2z"/>
<path d="M737.8 1019.5h2L760.4 1031.1v2.4L739.8 1045.1h-2z"/>
<path d="M758.5 1019.5h2L781.1 1031.1v2.4L760.5 1045.1h-2z"/>
<path d="M779.8 1019.5h2L802.4 1031.1v2.4L781.8 1045.1h-2z"/>
<path d="M683.7 1041.4h2L706.3 1053.0v2.4L685.7 1067.0h-2z"/>
<path d="M705.4 1041.4h2L728.0 1053.0v2.4L707.4 1067.0h-2z"/>
<path d="M768.9 1041.4h2L791.5 1053.0v2.4L770.9 1067.0h-2z"/>
<path d="M783.6 1041.4h2L806.2 1053.0v2.4L785.6 1067.0h-2z"/>
<path d="M748.1 1066.2h2L770.7 1077.8v2.4L750.1 1091.8h-2z"/>
<path d="M755.0 1066.2h2L777.6 1077.8v2.4L757.0 1091.8h-2z"/>
<path d="M765.4 1066.2h2L788.0 1077.8v2.4L767.4 1091.8h-2z"/>
<path d="M797.4 1066.2h2L820.0 1077.8v2.4L799.4 1091.8h-2z"/>
<path d="M868.2 1066.2h2L890.8 1077.8v2.4L870.2 1091.8h-2z"/>
<path d="M886.4 1066.2h2L909.0 1077.8v2.4L888.4 1091.8h-2z"/>
<path d="M740.4 1094.8h2L763.0 1106.4v2.4L742.4 1120.4h-2z"/>
<path d="M762.5 1094.8h2L785.1 1106.4v2.4L764.5 1120.4h-2z"/>
<path d="M812.1 1094.8h2L834.7 1106.4v2.4L814.1 1120.4h-2z"/>
<path d="M815.5 1094.8h2L838.1 1106.4v2.4L817.5 1120.4h-2z"/>
<path d="M836.6 1094.8h2L859.2 1106.4v2.4L838.6 1120.4h-2z"/>
<path d="M723.0 1128.7h2L745.6 1140.3v2.4L725.0 1154.3h-2z"/>
<path d="M726.4 1128.7h2L749.0 1140.3v2.4L728.4 1154.3h-2z"/>
<path d="M819.0 1128.7h2L841.6 1140.3v2.4L821.0 1154.3h-2z"/>
<path d="M854.9 1128.7h2L877.5 1140.3v2.4L856.9 1154.3h-2z"/>
<path d="M858.3 1128.7h2L880.9 1140.3v2.4L860.3 1154.3h-2z"/>
<path d="M908.1 1128.7h2L930.7 1140.3v2.4L910.1 1154.3h-2z"/>
<path d="M965.0 1128.7h2L987.6 1140.3v2.4L967.0 1154.3h-2z"/>
<path d="M1092.1 1128.7h2L1114.7 1140.3v2.4L1094.1 1154.3h-2z"/>
<path d="M734.4 1170.2h2L757.0 1181.8v2.4L736.4 1195.8h-2z"/>
<path d="M772.9 1170.2h2L795.5 1181.8v2.4L774.9 1195.8h-2z"/>
<path d="M801.0 1170.2h2L823.6 1181.8v2.4L803.0 1195.8h-2z"/>
<path d="M823.2 1170.2h2L845.8 1181.8v2.4L825.2 1195.8h-2z"/>
<path d="M833.6 1170.2h2L856.2 1181.8v2.4L835.6 1195.8h-2z"/>
<path d="M844.1 1170.2h2L866.7 1181.8v2.4L846.1 1195.8h-2z"/>
<path d="M847.9 1170.2h2L870.5 1181.8v2.4L849.9 1195.8h-2z"/>
<path d="M862.1 1170.2h2L884.7 1181.8v2.4L864.1 1195.8h-2z"/>
<path d="M883.4 1170.2h2L906.0 1181.8v2.4L885.4 1195.8h-2z"/>
<path d="M942.8 1170.2h2L965.4 1181.8v2.4L944.8 1195.8h-2z"/>
<path d="M1358.2 1170.2h2L1380.8 1181.8v2.4L1360.2 1195.8h-2z"/>
<path d="M1362.0 1041.4h2L1384.6 1053.0v2.4L1364.0 1067.0h-2z"/>
<path d="M829.8 1223.6h2L852.4 1235.2v2.4L831.8 1249.2h-2z"/>
<path d="M840.2 1223.6h2L862.8 1235.2v2.4L842.2 1249.2h-2z"/>
<path d="M864.9 1223.6h2L887.5 1235.2v2.4L866.9 1249.2h-2z"/>
<path d="M873.4 1223.6h2L896.0 1235.2v2.4L875.4 1249.2h-2z"/>
<path d="M890.0 1223.6h2L912.6 1235.2v2.4L892.0 1249.2h-2z"/>
<path d="M904.2 1223.6h2L926.8 1235.2v2.4L906.2 1249.2h-2z"/>
<path d="M957.0 1223.6h2L979.6 1235.2v2.4L959.0 1249.2h-2z"/>
<path d="M1059.8 1223.6h2L1082.4 1235.2v2.4L1061.8 1249.2h-2z"/>
<path d="M1098.7 1223.6h2L1121.3 1235.2v2.4L1100.7 1249.2h-2z"/>
<path d="M1124.0 1223.6h2L1146.6 1235.2v2.4L1126.0 1249.2h-2z"/>
<path d="M1255.0 1223.6h2L1277.6 1235.2v2.4L1257.0 1249.2h-2z"/>
<path d="M1280.0 1223.6h2L1302.6 1235.2v2.4L1282.0 1249.2h-2z"/>
<path d="M1298.1 1223.6h2L1320.7 1235.2v2.4L1300.1 1249.2h-2z"/>
<path d="M1318.9 1223.6h2L1341.5 1235.2v2.4L1320.9 1249.2h-2z"/>
<path d="M850.7 1298.9h2L873.3 1310.5v2.4L852.7 1324.5h-2z"/>
<path d="M897.2 1298.9h2L919.8 1310.5v2.4L899.2 1324.5h-2z"/>
<path d="M911.8 1298.9h2L934.4 1310.5v2.4L913.8 1324.5h-2z"/>
<path d="M918.1 1298.9h2L940.7 1310.5v2.4L920.1 1324.5h-2z"/>
<path d="M921.9 1298.9h2L944.5 1310.5v2.4L923.9 1324.5h-2z"/>
<path d="M929.1 1298.9h2L951.7 1310.5v2.4L931.1 1324.5h-2z"/>
<path d="M933.2 1298.9h2L955.8 1310.5v2.4L935.2 1324.5h-2z"/>
<path d="M950.3 1298.9h2L972.9 1310.5v2.4L952.3 1324.5h-2z"/>
<path d="M972.2 1298.9h2L994.8 1310.5v2.4L974.2 1324.5h-2z"/>
<path d="M976.9 1298.9h2L999.5 1310.5v2.4L978.9 1324.5h-2z"/>
<path d="M981.7 1298.9h2L1004.3 1310.5v2.4L983.7 1324.5h-2z"/>
<path d="M1000.0 1298.9h2L1022.6 1310.5v2.4L1002.0 1324.5h-2z"/>
<path d="M1007.2 1298.9h2L1029.8 1310.5v2.4L1009.2 1324.5h-2z"/>
<path d="M1018.0 1298.9h2L1040.6 1310.5v2.4L1020.0 1324.5h-2z"/>
<path d="M1028.1 1298.9h2L1050.7 1310.5v2.4L1030.1 1324.5h-2z"/>
<path d="M1052.8 1298.9h2L1075.4 1310.5v2.4L1054.8 1324.5h-2z"/>
<path d="M1074.0 1298.9h2L1096.6 1310.5v2.4L1076.0 1324.5h-2z"/>
<path d="M1082.0 1298.9h2L1104.6 1310.5v2.4L1084.0 1324.5h-2z"/>
<path d="M1095.9 1298.9h2L1118.5 1310.5v2.4L1097.9 1324.5h-2z"/>
<path d="M1110.1 1298.9h2L1132.7 1310.5v2.4L1112.1 1324.5h-2z"/>
<path d="M1120.9 1298.9h2L1143.5 1310.5v2.4L1122.9 1324.5h-2z"/>
<path d="M1127.2 1298.9h2L1149.8 1310.5v2.4L1129.2 1324.5h-2z"/>
<path d="M1145.2 1298.9h2L1167.8 1310.5v2.4L1147.2 1324.5h-2z"/>
<path d="M1169.9 1298.9h2L1192.5 1310.5v2.4L1171.9 1324.5h-2z"/>
<path d="M1206.0 1298.9h2L1228.6 1310.5v2.4L1208.0 1324.5h-2z"/>
<path d="M1337.0 1298.9h2L1359.6 1310.5v2.4L1339.0 1324.5h-2z"/>
<path d="M1344.0 1298.9h2L1366.6 1310.5v2.4L1346.0 1324.5h-2z"/>
<path d="M1355.0 1298.9h2L1377.6 1310.5v2.4L1357.0 1324.5h-2z"/>
<path d="M1369.2 1298.9h2L1391.8 1310.5v2.4L1371.2 1324.5h-2z"/>
<path d="M1375.9 1298.9h2L1398.5 1310.5v2.4L1377.9 1324.5h-2z"/>
<path d="M1415.1 1298.9h2L1437.7 1310.5v2.4L1417.1 1324.5h-2z"/>
<path d="M1504.0 1298.9h2L1526.6 1310.5v2.4L1506.0 1324.5h-2z"/>
<path d="M1528.1 1298.9h2L1550.7 1310.5v2.4L1530.1 1324.5h-2z"/>
<path d="M1552.8 1298.9h2L1575.4 1310.5v2.4L1554.8 1324.5h-2z"/>
<path d="M1631.2 1298.9h2L1653.8 1310.5v2.4L1633.2 1324.5h-2z"/>
<path d="M1773.0 1298.9h2L1795.6 1310.5v2.4L1775.0 1324.5h-2z"/>
<path d="M1790.9 1298.9h2L1813.5 1310.5v2.4L1792.9 1324.5h-2z"/>
<path d="M1809.0 1298.9h2L1831.6 1310.5v2.4L1811.0 1324.5h-2z"/>
<path d="M1815.1 1298.9h2L1837.7 1310.5v2.4L1817.1 1324.5h-2z"/>
<path d="M1879.0 1298.9h2L1901.6 1310.5v2.4L1881.0 1324.5h-2z"/>
<path d="M1926.1 1298.9h2L1948.7 1310.5v2.4L1928.1 1324.5h-2z"/>
<path d="M879.3 1427.7h2L901.9 1439.3v2.4L881.3 1453.3h-2z"/>
<path d="M901.1 1427.7h2L923.7 1439.3v2.4L903.1 1453.3h-2z"/>
<path d="M915.3 1427.7h2L937.9 1439.3v2.4L917.3 1453.3h-2z"/>
<path d="M947.0 1427.7h2L969.6 1439.3v2.4L949.0 1453.3h-2z"/>
<path d="M985.9 1427.7h2L1008.5 1439.3v2.4L987.9 1453.3h-2z"/>
<path d="M993.0 1427.7h2L1015.6 1439.3v2.4L995.0 1453.3h-2z"/>
<path d="M997.0 1427.7h2L1019.6 1439.3v2.4L999.0 1453.3h-2z"/>
<path d="M1004.1 1427.7h2L1026.7 1439.3v2.4L1006.1 1453.3h-2z"/>
<path d="M1010.5 1427.7h2L1033.1 1439.3v2.4L1012.5 1453.3h-2z"/>
<path d="M1014.1 1427.7h2L1036.7 1439.3v2.4L1016.1 1453.3h-2z"/>
<path d="M1021.2 1427.7h2L1043.8 1439.3v2.4L1023.2 1453.3h-2z"/>
<path d="M1031.9 1427.7h2L1054.5 1439.3v2.4L1033.9 1453.3h-2z"/>
<path d="M1037.6 1427.7h2L1060.2 1439.3v2.4L1039.6 1453.3h-2z"/>
<path d="M1041.2 1427.7h2L1063.8 1439.3v2.4L1043.2 1453.3h-2z"/>
<path d="M1045.4 1427.7h2L1068.0 1439.3v2.4L1047.4 1453.3h-2z"/>
<path d="M1057.1 1427.7h2L1079.7 1439.3v2.4L1059.1 1453.3h-2z"/>
<path d="M1067.1 1427.7h2L1089.7 1439.3v2.4L1069.1 1453.3h-2z"/>
<path d="M1089.1 1427.7h2L1111.7 1439.3v2.4L1091.1 1453.3h-2z"/>
<path d="M1138.0 1427.7h2L1160.6 1439.3v2.4L1140.0 1453.3h-2z"/>
<path d="M1174.0 1427.7h2L1196.6 1439.3v2.4L1176.0 1453.3h-2z"/>
<path d="M1198.9 1427.7h2L1221.5 1439.3v2.4L1200.9 1453.3h-2z"/>
<path d="M1216.0 1427.7h2L1238.6 1439.3v2.4L1218.0 1453.3h-2z"/>
<path d="M1219.8 1427.7h2L1242.4 1439.3v2.4L1221.8 1453.3h-2z"/>
<path d="M1223.4 1427.7h2L1246.0 1439.3v2.4L1225.4 1453.3h-2z"/>
<path d="M1231.2 1427.7h2L1253.8 1439.3v2.4L1233.2 1453.3h-2z"/>
<path d="M1241.2 1427.7h2L1263.8 1439.3v2.4L1243.2 1453.3h-2z"/>
<path d="M1248.3 1427.7h2L1270.9 1439.3v2.4L1250.3 1453.3h-2z"/>
<path d="M1283.9 1427.7h2L1306.5 1439.3v2.4L1285.9 1453.3h-2z"/>
<path d="M1301.2 1427.7h2L1323.8 1439.3v2.4L1303.2 1453.3h-2z"/>
<path d="M1311.9 1427.7h2L1334.5 1439.3v2.4L1313.9 1453.3h-2z"/>
<path d="M1323.0 1427.7h2L1345.6 1439.3v2.4L1325.0 1453.3h-2z"/>
<path d="M1372.1 1427.7h2L1394.7 1439.3v2.4L1374.1 1453.3h-2z"/>
<path d="M1390.2 1427.7h2L1412.8 1439.3v2.4L1392.2 1453.3h-2z"/>
<path d="M1400.9 1427.7h2L1423.5 1439.3v2.4L1402.9 1453.3h-2z"/>
<path d="M1450.0 1427.7h2L1472.6 1439.3v2.4L1452.0 1453.3h-2z"/>
<path d="M1474.9 1427.7h2L1497.5 1439.3v2.4L1476.9 1453.3h-2z"/>
<path d="M1492.7 1427.7h2L1515.3 1439.3v2.4L1494.7 1453.3h-2z"/>
<path d="M1524.8 1427.7h2L1547.4 1439.3v2.4L1526.8 1453.3h-2z"/>
<path d="M1534.7 1427.7h2L1557.3 1439.3v2.4L1536.7 1453.3h-2z"/>
<path d="M1587.9 1427.7h2L1610.5 1439.3v2.4L1589.9 1453.3h-2z"/>
<path d="M1599.0 1427.7h2L1621.6 1439.3v2.4L1601.0 1453.3h-2z"/>
<path d="M1610.0 1427.7h2L1632.6 1439.3v2.4L1612.0 1453.3h-2z"/>
<path d="M1621.1 1427.7h2L1643.7 1439.3v2.4L1623.1 1453.3h-2z"/>
<path d="M1626.8 1427.7h2L1649.4 1439.3v2.4L1628.8 1453.3h-2z"/>
<path d="M1645.3 1427.7h2L1667.9 1439.3v2.4L1647.3 1453.3h-2z"/>
<path d="M1656.0 1427.7h2L1678.6 1439.3v2.4L1658.0 1453.3h-2z"/>
<path d="M1666.9 1427.7h2L1689.5 1439.3v2.4L1668.9 1453.3h-2z"/>
<path d="M1673.8 1427.7h2L1696.4 1439.3v2.4L1675.8 1453.3h-2z"/>
<path d="M1677.3 1427.7h2L1699.9 1439.3v2.4L1679.3 1453.3h-2z"/>
<path d="M1680.9 1427.7h2L1703.5 1439.3v2.4L1682.9 1453.3h-2z"/>
<path d="M1684.5 1427.7h2L1707.1 1439.3v2.4L1686.5 1453.3h-2z"/>
<path d="M1695.1 1427.7h2L1717.7 1439.3v2.4L1697.1 1453.3h-2z"/>
<path d="M1705.8 1427.7h2L1728.4 1439.3v2.4L1707.8 1453.3h-2z"/>
<path d="M1716.5 1427.7h2L1739.1 1439.3v2.4L1718.5 1453.3h-2z"/>
<path d="M1737.1 1427.7h2L1759.7 1439.3v2.4L1739.1 1453.3h-2z"/>
<path d="M1741.4 1427.7h2L1764.0 1439.3v2.4L1743.4 1453.3h-2z"/>
<path d="M1752.1 1427.7h2L1774.7 1439.3v2.4L1754.1 1453.3h-2z"/>
<path d="M1756.4 1427.7h2L1779.0 1439.3v2.4L1758.4 1453.3h-2z"/>
<path d="M1762.1 1427.7h2L1784.7 1439.3v2.4L1764.1 1453.3h-2z"/>
<path d="M1776.3 1427.7h2L1798.9 1439.3v2.4L1778.3 1453.3h-2z"/>
<path d="M1787.0 1427.7h2L1809.6 1439.3v2.4L1789.0 1453.3h-2z"/>
<path d="M1797.6 1427.7h2L1820.2 1439.3v2.4L1799.6 1453.3h-2z"/>
<path d="M1823.1 1427.7h2L1845.7 1439.3v2.4L1825.1 1453.3h-2z"/>
<path d="M1837.0 1427.7h2L1859.6 1439.3v2.4L1839.0 1453.3h-2z"/>
<path d="M1841.3 1427.7h2L1863.9 1439.3v2.4L1843.3 1453.3h-2z"/>
<path d="M1858.4 1427.7h2L1881.0 1439.3v2.4L1860.4 1453.3h-2z"/>
<path d="M1861.9 1427.7h2L1884.5 1439.3v2.4L1863.9 1453.3h-2z"/>
<path d="M1871.9 1427.7h2L1894.5 1439.3v2.4L1873.9 1453.3h-2z"/>
<path d="M1876.9 1427.7h2L1899.5 1439.3v2.4L1878.9 1453.3h-2z"/>
<path d="M1901.1 1427.7h2L1923.7 1439.3v2.4L1903.1 1453.3h-2z"/>
<path d="M1912.2 1427.7h2L1934.8 1439.3v2.4L1914.2 1453.3h-2z"/>
</g></g>
<g font-family="'Liberation Serif', serif" fill="#000" shape-rendering="auto">
<g font-weight="bold" font-size="66.6px">
<text transform="translate(223.8 176.9) scale(0.972 1)" text-anchor="end">3.0</text>
<text transform="translate(223.8 390.8) scale(0.972 1)" text-anchor="end">2.5</text>
<text transform="translate(223.8 604.7) scale(0.972 1)" text-anchor="end">2.0</text>
<text transform="translate(223.8 818.5) scale(0.972 1)" text-anchor="end">1.5</text>
<text transform="translate(223.8 1032.4) scale(0.972 1)" text-anchor="end">1.0</text>
<text transform="translate(223.8 1246.3) scale(0.972 1)" text-anchor="end">0.5</text>
<text transform="translate(223.8 1460.2) scale(0.972 1)" text-anchor="end">0.0</text>
<text transform="translate(540.0 1646.7) scale(0.958 1)" text-anchor="middle">2,000,000</text>
<text transform="translate(894.7 1646.7) scale(0.958 1)" text-anchor="middle">4,000,000</text>
<text transform="translate(1249.3 1646.7) scale(0.958 1)" text-anchor="middle">6,000,000</text>
<text transform="translate(1604.0 1646.7) scale(0.958 1)" text-anchor="middle">8,000,000</text>
<text transform="translate(1958.6 1646.7) scale(0.958 1)" text-anchor="middle">10,000,000</text>
</g>
<g font-weight="bold" font-size="78px">
<text x="1205" y="1769.4" text-anchor="middle">Delay Time(ns)</text>
<text transform="translate(111.7 799) rotate(-90)" text-anchor="middle">Intensity(a.u.)</text>
</g>
<rect x="1646.5" y="51" width="486" height="223.5" fill="#fff" stroke="#000" stroke-width="3" shape-rendering="crispEdges"/>
<circle cx="1735" cy="109" r="10.9" fill="#000" shape-rendering="crispEdges"/>
<path d="M1728 198.8h2L1750.4 210.4v2.4L1730 224.4h-2z" fill="#f00" shape-rendering="crispEdges"/>
<g font-size="72px">
<text x="1833" y="133.2">TiO<tspan font-size="48px" dy="18">2</tspan><tspan dy="-18">-</tspan><tspan dx="-2.3">Eu</tspan><tspan font-size="48px" dy="-29" dx="-1.5">3</tspan><tspan font-size="55px" dx="-1.5" dy="1.5">+</tspan></text>
<text x="1833" y="235.2">TiO<tspan font-size="48px" dy="18">2</tspan><tspan dy="-18">-</tspan><tspan dx="-2.3" letter-spacing="-0.6">ETP</tspan></text>
</g>
</g>
</svg>
</body></html>
